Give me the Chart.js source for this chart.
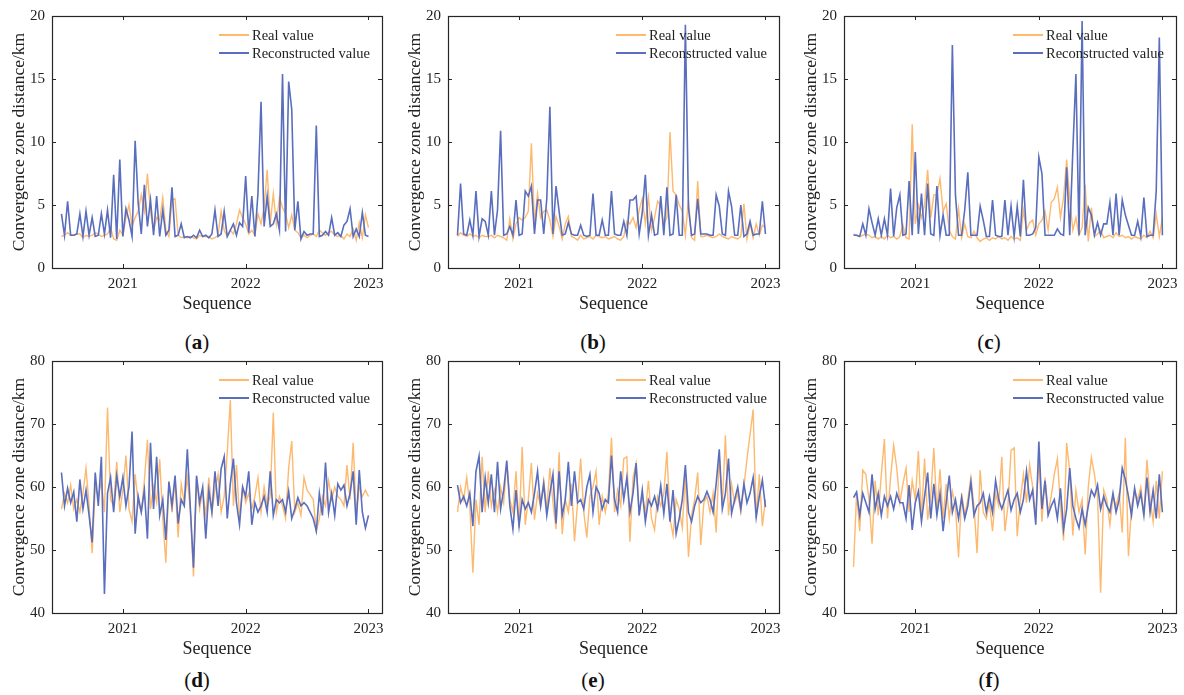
<!DOCTYPE html>
<html>
<head>
<meta charset="utf-8">
<script src="https://cdn.jsdelivr.net/npm/chart.js@4.4.1/dist/chart.umd.min.js"></script>
<style>
  body { margin:0; background:#fff; width:1184px; height:695px; position:relative; overflow:hidden;
         font-family:"Liberation Serif","Times New Roman",serif; }
  canvas { position:absolute; }
  .leg { position:absolute; font-size:14.5px; color:#222; line-height:18px; }
  .leg .row { display:flex; align-items:center; white-space:nowrap; height:18px; }
  .leg .sw { display:inline-block; width:30px; height:2px; margin-right:3px; }
  .cap { position:absolute; font-size:21px; color:#111; transform:translate(-50%,-50%); white-space:nowrap; }
</style>
</head>
<body>
<script>
// ---- sampling grid (decimal years) ----
const startYear = 2020.5;
const stepYears = 0.025;
const yearTicks = [2021, 2022, 2023];
const seriesNames = ['Real value', 'Reconstructed value'];

// ---- (a) ----
const realA = [2.5,2.6,2.8,2.6,2.6,2.7,2.7,2.4,2.6,2.5,
  2.6,2.8,2.7,2.5,2.6,2.7,3.2,2.3,2.2,3.0,
  2.6,4.0,5.0,3.3,4.0,4.5,5.8,4.5,7.5,4.5,
  3.0,4.0,3.8,5.6,3.0,2.5,5.4,5.5,2.6,2.4,
  2.5,2.4,2.5,2.4,2.3,2.6,2.5,2.5,2.5,2.3,
  2.4,2.6,4.5,3.0,2.5,3.0,2.7,3.5,4.6,4.0,
  3.5,2.7,3.0,2.6,4.3,3.5,4.8,7.8,3.5,5.9,
  3.5,5.6,4.8,4.3,3.2,4.2,3.0,2.8,2.4,2.6,
  2.4,2.6,2.7,2.5,3.0,2.8,2.6,2.8,2.9,2.6,
  2.5,2.6,2.3,2.7,2.5,3.1,2.2,3.6,2.4,4.2,3.2];
const reconA = [4.3,2.6,5.3,2.6,2.6,2.7,4.3,2.5,4.5,2.6,
  4.0,2.5,2.6,4.3,2.7,4.6,2.4,7.4,2.3,8.6,
  2.5,4.7,3.8,2.5,10.1,5.1,2.7,6.6,3.3,5.4,
  2.6,5.7,2.5,4.6,2.6,3.0,6.4,2.5,2.6,3.5,
  2.4,2.5,2.4,2.6,2.4,3.0,2.5,2.6,2.4,2.7,
  4.6,2.5,2.7,4.5,2.5,3.0,3.5,2.6,3.6,3.3,
  7.3,2.8,5.7,2.5,5.9,13.2,3.3,5.7,3.3,3.5,
  4.3,3.0,15.4,2.9,14.8,12.6,3.0,5.3,2.3,2.9,
  2.6,2.7,2.7,11.3,2.5,2.6,2.9,2.6,4.0,2.6,
  2.8,2.5,3.4,3.7,4.7,2.5,3.1,2.5,4.4,2.6,2.5];

// ---- (b) ----
const realB = [2.5,2.8,2.6,2.5,2.7,2.5,2.6,2.4,2.6,2.5,
  2.5,2.6,2.4,2.6,2.5,2.4,2.2,3.9,2.3,3.5,
  4.0,3.8,4.0,4.5,9.9,3.5,5.9,4.0,4.5,4.6,
  3.8,2.5,4.1,3.3,2.3,3.5,4.1,2.5,2.4,2.2,
  2.6,2.3,2.4,2.5,2.3,2.6,2.5,2.4,2.5,2.3,
  2.4,2.5,2.3,2.2,2.5,3.7,3.5,4.0,3.2,4.6,
  5.5,3.5,5.6,3.0,4.0,5.3,4.9,3.5,4.0,10.8,
  6.1,5.8,5.0,4.5,2.6,5.4,2.4,2.2,6.9,2.5,
  2.5,2.6,2.5,2.4,2.5,2.7,2.5,2.4,2.3,2.5,
  2.4,2.3,2.5,5.1,2.3,3.5,2.4,3.5,2.6,3.4,3.2];
const reconB = [2.6,6.7,2.7,2.6,3.8,2.6,6.1,2.5,3.9,3.7,
  2.6,6.1,2.6,4.6,10.9,2.6,2.7,3.3,2.6,5.4,
  2.6,2.7,6.1,5.7,6.5,2.7,5.4,5.4,2.7,5.5,
  12.8,2.7,6.5,4.5,2.6,2.7,3.6,2.7,2.6,2.6,
  3.4,2.6,2.5,2.6,5.9,2.6,2.6,3.8,2.6,2.6,
  6.1,2.7,2.6,2.6,3.7,2.6,5.4,5.4,5.7,2.7,
  4.4,7.4,2.6,4.2,2.6,2.7,5.7,2.6,6.4,2.6,
  2.7,5.8,2.6,2.6,19.3,4.8,2.6,2.7,5.5,2.7,
  2.7,2.7,2.6,2.6,5.8,4.9,2.7,2.6,6.1,4.9,
  2.6,2.6,5.0,2.5,2.7,3.7,2.6,2.7,2.7,5.3,2.7];

// ---- (c) ----
const realC = [2.7,2.6,2.5,2.6,2.7,2.6,2.4,2.5,2.3,2.5,
  2.3,2.6,2.4,2.5,2.3,2.5,3.4,2.4,2.3,11.4,
  3.5,5.0,4.0,5.0,7.8,4.0,5.8,5.8,7.1,4.5,
  5.1,3.0,2.5,2.3,4.7,2.4,3.5,2.5,2.4,2.9,
  2.4,2.1,2.3,2.4,2.2,2.4,2.3,2.5,2.3,2.4,
  2.2,2.5,2.3,2.4,2.2,4.6,3.0,3.6,3.8,2.6,
  3.5,3.8,4.5,3.0,5.2,5.5,6.4,4.0,5.6,8.6,
  5.5,3.0,4.0,2.6,3.2,6.6,2.1,4.8,2.5,2.7,
  3.0,2.4,2.5,2.6,2.4,2.8,2.5,2.6,2.4,2.5,
  2.3,2.5,2.4,2.3,2.6,2.4,2.9,2.4,4.3,2.5,4.0];
const reconC = [2.6,2.6,2.5,3.5,2.6,4.7,3.6,2.6,3.9,2.6,
  3.9,2.6,6.3,2.5,4.8,5.8,2.6,2.7,6.9,2.6,
  9.2,2.7,5.9,2.6,6.7,2.7,2.6,6.5,2.6,4.2,
  2.6,2.6,17.7,5.8,2.6,2.6,4.6,7.6,2.6,2.6,
  2.6,4.9,3.8,2.5,2.5,5.4,2.6,2.5,2.5,5.4,
  2.6,4.9,2.5,4.9,2.5,7.0,2.6,2.6,2.7,3.2,
  8.8,7.5,2.6,2.6,2.6,2.6,3.1,2.7,2.6,8.0,
  2.6,9.3,15.4,2.6,19.6,2.6,4.8,4.2,2.6,3.6,
  2.6,3.5,3.5,5.2,2.6,5.9,2.6,5.4,4.2,3.4,
  2.6,2.6,3.7,2.5,5.6,2.5,2.6,2.6,6.1,18.3,2.6];

// ---- (d) ----
const realD = [56.5,59.0,57.5,60.3,56.5,58.0,56.0,59.0,63.0,57.0,
  49.5,60.0,58.5,61.0,56.0,72.6,58.0,57.0,64.0,56.0,
  59.5,65.0,56.5,54.5,62.0,57.5,56.0,61.0,67.5,56.5,
  60.0,57.5,64.4,55.0,48.0,61.0,56.0,61.0,52.0,60.5,
  57.5,61.5,56.0,45.8,61.5,56.5,59.5,55.5,61.5,56.0,
  59.5,62.0,56.0,58.5,65.5,73.8,57.0,63.5,55.0,60.0,
  57.5,59.0,56.5,58.5,61.5,56.0,60.0,57.0,58.5,71.8,
  56.0,58.5,57.0,55.0,63.0,67.3,56.0,57.5,55.5,61.5,
  59.5,58.8,58.0,53.0,55.0,58.5,57.0,61.0,58.0,60.0,
  58.5,58.0,57.0,63.5,58.0,67.0,56.0,60.0,58.5,59.5,58.5];
const reconD = [62.3,57.0,59.8,57.5,59.2,54.5,61.2,56.5,59.5,55.5,
  51.2,62.3,57.0,64.8,43.0,59.0,61.5,56.0,61.8,58.5,
  61.5,57.0,60.0,68.8,52.6,58.5,56.0,59.5,51.8,67.0,
  56.5,64.8,55.5,58.0,51.6,60.8,57.0,61.8,54.2,58.0,
  57.0,66.0,56.5,47.2,61.8,57.5,60.0,51.8,59.5,56.0,
  62.5,57.0,62.9,64.8,55.0,60.5,64.5,57.5,54.0,60.0,
  58.5,62.5,54.0,57.5,56.0,57.0,58.5,56.0,62.5,55.5,
  58.0,57.5,58.0,56.0,59.3,55.0,56.5,58.3,57.0,57.5,
  57.0,56.0,55.0,53.0,59.0,55.5,63.9,56.0,59.0,55.5,
  60.5,59.5,60.3,57.0,59.0,62.5,54.0,62.7,56.0,53.5,55.5];

// ---- (e) ----
const realE = [56.0,60.0,58.0,61.5,57.0,46.4,58.0,54.0,64.8,56.0,
  62.5,57.0,59.5,56.0,60.0,57.5,63.8,58.0,56.0,62.5,
  53.5,66.4,54.0,58.0,63.8,54.8,59.0,57.0,61.0,56.5,
  63.0,57.5,53.3,65.5,52.5,58.0,56.0,60.5,51.4,57.5,
  64.5,56.0,52.0,58.5,60.0,62.5,54.0,58.5,56.0,59.0,
  67.8,56.0,59.5,57.0,64.5,64.8,51.3,61.5,63.8,56.0,
  58.5,56.0,61.0,55.0,53.2,58.5,57.0,59.0,65.6,55.0,
  52.3,58.0,56.5,53.5,62.0,48.9,55.5,58.0,62.3,50.8,
  57.5,58.5,56.0,59.0,52.8,64.8,57.0,68.2,55.5,60.5,
  57.5,59.0,56.0,60.0,64.5,68.3,72.3,55.0,62.0,53.8,58.0];
const reconE = [60.3,57.5,58.5,57.0,59.0,53.8,62.5,64.9,56.0,61.5,
  57.5,62.0,56.0,64.0,56.5,59.5,64.2,57.0,53.3,59.5,
  53.8,58.0,56.5,57.5,56.0,59.0,62.5,57.0,60.5,55.5,
  59.0,62.0,54.2,62.5,55.5,58.0,64.0,57.0,62.5,57.5,
  58.0,56.5,60.0,62.0,56.0,60.0,59.0,56.5,58.0,57.5,
  65.0,58.0,56.0,62.5,58.0,61.5,56.0,59.0,63.8,55.5,
  59.5,54.5,58.0,57.0,58.5,56.5,60.2,55.8,60.5,54.5,
  59.5,52.6,55.0,58.0,63.5,56.0,54.5,57.0,58.5,57.5,
  58.0,59.3,58.0,56.0,60.5,66.0,56.5,59.0,64.5,55.8,
  58.0,60.0,56.5,60.5,57.5,59.0,61.5,55.2,58.5,61.1,56.8];

// ---- (f) ----
const realF = [47.3,59.0,53.0,62.7,62.0,58.0,51.0,61.0,55.5,62.0,
  67.6,55.0,61.5,66.6,63.0,57.5,60.5,63.0,56.0,61.0,
  58.0,65.7,55.0,64.5,54.8,58.5,66.2,56.0,62.8,55.0,
  60.5,55.0,59.3,57.0,48.8,59.0,55.5,58.0,61.5,57.0,
  49.5,62.7,56.0,55.0,57.5,53.0,59.0,57.0,64.8,53.0,
  57.0,65.8,66.2,52.2,58.0,62.0,57.5,63.5,60.0,55.0,
  64.5,54.5,61.5,56.0,58.5,62.0,64.5,57.0,51.5,67.0,
  62.5,52.3,59.5,56.0,58.0,49.3,60.0,64.7,62.0,58.5,
  43.2,59.5,58.0,54.0,58.5,57.0,59.0,52.8,67.8,49.0,
  57.0,59.5,58.0,60.0,55.5,64.3,58.0,54.5,61.0,55.0,62.5];
const reconF = [58.3,59.2,55.5,59.0,57.5,56.0,62.0,56.5,59.0,55.5,
  58.5,57.0,58.5,56.5,59.0,57.5,57.5,55.0,60.3,53.2,
  57.5,59.3,54.5,58.5,62.3,55.0,60.5,55.5,59.0,53.0,
  57.5,61.8,56.0,58.0,55.0,58.3,55.0,57.0,60.8,55.5,
  57.0,57.5,59.0,56.0,58.5,56.0,61.0,58.0,56.5,58.0,
  59.5,56.3,58.0,59.0,56.0,58.0,62.5,58.0,59.5,54.0,
  67.2,56.5,61.0,55.5,57.0,58.0,55.0,59.8,53.2,56.5,
  63.0,57.0,55.0,53.5,56.5,54.0,57.0,59.5,58.5,60.3,
  56.5,58.5,57.0,56.0,59.0,56.0,58.0,63.0,61.2,58.5,
  55.5,59.8,57.0,59.0,55.5,61.5,56.0,59.5,55.0,62.0,56.0];

// ---- layout of the six panels (plot-area rectangles in page pixels) ----
const panels = [
  { tag:'a', real:realA, recon:reconA, yMin:0,  yMax:20, yStep:5,  L:52,  R:382,  T:16,  B:268, capY:342 },
  { tag:'b', real:realB, recon:reconB, yMin:0,  yMax:20, yStep:5,  L:448, R:779,  T:16,  B:268, capY:342 },
  { tag:'c', real:realC, recon:reconC, yMin:0,  yMax:20, yStep:5,  L:844, R:1176, T:16,  B:268, capY:342 },
  { tag:'d', real:realD, recon:reconD, yMin:40, yMax:80, yStep:10, L:52,  R:382,  T:361, B:613, capY:680 },
  { tag:'e', real:realE, recon:reconE, yMin:40, yMax:80, yStep:10, L:448, R:779,  T:361, B:613, capY:680 },
  { tag:'f', real:realF, recon:reconF, yMin:40, yMax:80, yStep:10, L:844, R:1176, T:361, B:613, capY:680 }
];

const FONT = '"Liberation Serif","Times New Roman",serif';
const TXT = '#222';
const REAL_COLOR = '#FDB96E';
const RECON_COLOR = '#5A6EBE';
const Y_AXIS_W = 52, PAD_TOP = 16, PAD_RIGHT = 18, X_AXIS_H = 48;

const matlabAxes = {
  id: 'matlabAxes',
  afterDraw(chart) {
    const { ctx, chartArea: a, scales: { x, y } } = chart;
    ctx.save();
    ctx.strokeStyle = '#262626';
    ctx.lineWidth = 1;
    ctx.beginPath();
    x.ticks.forEach(t => {
      const p = Math.round(x.getPixelForValue(t.value)) + 0.5;
      ctx.moveTo(p, a.bottom); ctx.lineTo(p, a.bottom - 4);
      ctx.moveTo(p, a.top);    ctx.lineTo(p, a.top + 4);
    });
    y.ticks.forEach(t => {
      const p = Math.round(y.getPixelForValue(t.value)) + 0.5;
      ctx.moveTo(a.left, p);  ctx.lineTo(a.left + 4, p);
      ctx.moveTo(a.right, p); ctx.lineTo(a.right - 4, p);
    });
    ctx.stroke();
    ctx.lineWidth = 1.2;
    ctx.strokeRect(Math.round(a.left) + 0.5, Math.round(a.top) + 0.5,
                   Math.round(a.right - a.left), Math.round(a.bottom - a.top));
    ctx.restore();
  }
};

function toPoints(values) {
  return values.map((v, i) => ({ x: startYear + i * stepYears, y: v }));
}

panels.forEach(p => {
  const cv = document.createElement('canvas');
  const w = (p.R - p.L) + Y_AXIS_W + PAD_RIGHT;
  const h = (p.B - p.T) + PAD_TOP + X_AXIS_H;
  cv.width = w; cv.height = h;
  cv.style.left = (p.L - Y_AXIS_W) + 'px';
  cv.style.top = (p.T - PAD_TOP) + 'px';
  cv.style.width = w + 'px'; cv.style.height = h + 'px';
  document.body.appendChild(cv);

  const yTicks = [];
  for (let v = p.yMin; v <= p.yMax; v += p.yStep) yTicks.push(v);

  const chart = new Chart(cv, {
    type: 'line',
    data: {
      datasets: [
        { label: seriesNames[0], data: toPoints(p.real), borderColor: REAL_COLOR, backgroundColor: REAL_COLOR,
          borderWidth: 1.4, pointRadius: 0, tension: 0, order: 1 },
        { label: seriesNames[1], data: toPoints(p.recon), borderColor: RECON_COLOR, backgroundColor: RECON_COLOR,
          borderWidth: 1.6, pointRadius: 0, tension: 0, order: 0 }
      ]
    },
    options: {
      responsive: false, animation: false, devicePixelRatio: 1,
      layout: { padding: { left: 0, top: PAD_TOP, right: PAD_RIGHT, bottom: 0 } },
      plugins: { legend: { display: false }, tooltip: { enabled: false } },
      scales: {
        x: {
          type: 'linear', min: 2020.423, max: 2023.11,
          afterBuildTicks: s => { s.ticks = yearTicks.map(v => ({ value: v })); },
          afterFit: s => { s.height = X_AXIS_H; },
          grid: { display: false, drawTicks: false }, border: { display: false },
          ticks: { callback: v => String(v), font: { family: FONT, size: 15 }, color: TXT,
                   padding: 7, maxRotation: 0, autoSkip: false },
          title: { display: true, text: 'Sequence', font: { family: FONT, size: 18 }, color: TXT,
                   padding: { top: 0, bottom: 1 } }
        },
        y: {
          min: p.yMin, max: p.yMax,
          afterBuildTicks: s => { s.ticks = yTicks.map(v => ({ value: v })); },
          afterFit: s => { s.width = Y_AXIS_W; },
          grid: { display: false, drawTicks: false }, border: { display: false },
          ticks: { font: { family: FONT, size: 15 }, color: TXT, padding: 7 },
          title: { display: true, text: 'Convergence zone distance/km', font: { family: FONT, size: 17.5 },
                   color: TXT, padding: { top: 8.5, bottom: 0 } }
        }
      }
    },
    plugins: [matlabAxes]
  });

  // legend (HTML) built from the chart's datasets, placed at top-right inside the plot
  const leg = document.createElement('div');
  leg.className = 'leg';
  leg.style.left = (p.R - 163) + 'px';
  leg.style.top = (p.T + 10) + 'px';
  chart.data.datasets.forEach(ds => {
    const row = document.createElement('div');
    row.className = 'row';
    const sw = document.createElement('span');
    sw.className = 'sw';
    sw.style.background = ds.borderColor;
    row.appendChild(sw);
    row.appendChild(document.createTextNode(ds.label));
    leg.appendChild(row);
  });
  document.body.appendChild(leg);

  const cap = document.createElement('div');
  cap.className = 'cap';
  cap.style.left = (p.L + 145) + 'px';
  cap.style.top = p.capY + 'px';
  cap.innerHTML = '(<b>' + p.tag + '</b>)';
  document.body.appendChild(cap);
});
</script>
</body>
</html>
